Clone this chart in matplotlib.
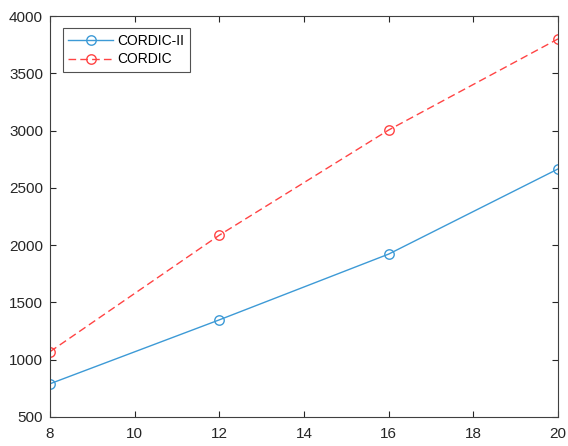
import matplotlib
matplotlib.use("Agg")
import matplotlib.pyplot as plt

x = [8, 12, 16, 20]
cordic2 = [790, 1348, 1922, 2665]
cordic = [1070, 2087, 3005, 3800]
xticks = [8, 10, 12, 14, 16, 18, 20]
yticks = [500, 1000, 1500, 2000, 2500, 3000, 3500, 4000]

plt.rcParams['font.family'] = ['Liberation Sans', 'DejaVu Sans']
fig = plt.figure(figsize=(5.68, 4.46), dpi=100)
ax = fig.add_axes([50/568, 29/446, 508/568, 401/446])

ax.plot(x, cordic2, '-', color='#3d9ad6', lw=1.0, marker='o', ms=6.8,
        mfc='none', mec='#3d9ad6', mew=1.0, label='CORDIC-II')
ax.plot(x, cordic, '--', color='#ff4444', lw=1.0, marker='o', ms=6.8,
        mfc='none', mec='#ff4444', mew=1.0, label='CORDIC', dashes=(5.5, 3))

ax.set_xlim(8, 20)
ax.set_ylim(500, 4000)
ax.set_xticks(xticks)
ax.set_yticks(yticks)
ax.tick_params(direction='in', top=True, right=True, length=4, width=0.8,
               colors='#262626', labelsize=11)
ax.tick_params(axis='x', pad=7)
ax.tick_params(axis='y', pad=5)
for s in ax.spines.values():
    s.set_color('#404040')
    s.set_linewidth(0.8)

leg = ax.legend(loc='upper left', bbox_to_anchor=(0.025, 0.97), fontsize=10,
                frameon=True, fancybox=False, edgecolor='#262626',
                handlelength=3.25, borderpad=0.4, labelspacing=0.35,
                handletextpad=0.3, borderaxespad=0)
leg.get_frame().set_linewidth(0.8)

fig.savefig('out.png', dpi=100)
